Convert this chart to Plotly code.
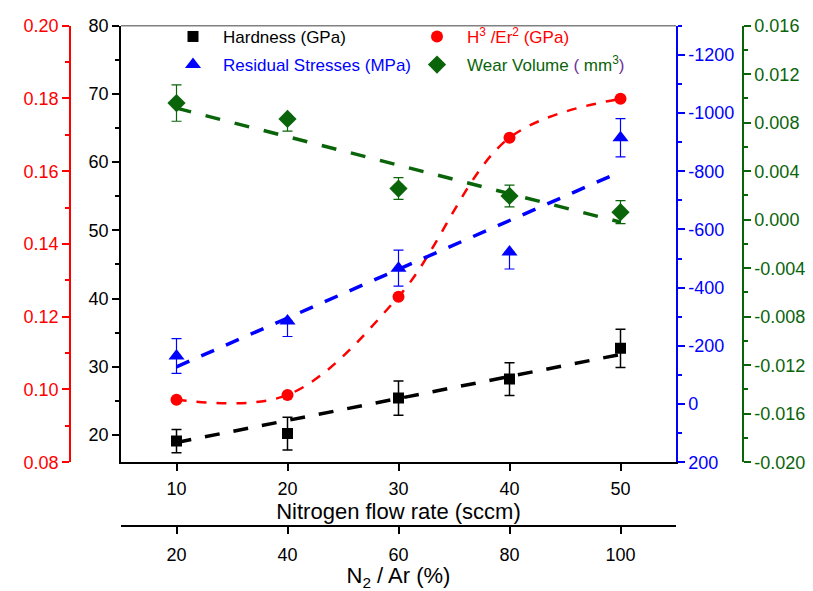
import numpy as np
import plotly.graph_objects as go

# ---- data -------------------------------------------------------------
flow = [10, 20, 30, 40, 50]                      # nitrogen flow rate (sccm)
n2_ar_ticks = [20, 40, 60, 80, 100]              # N2 / Ar (%)

hardness = [19.1, 20.2, 25.4, 28.2, 32.7]        # GPa
hardness_err = [1.7, 2.4, 2.5, 2.4, 2.8]

h3_er2 = [0.0972, 0.0985, 0.1255, 0.1692, 0.1799]  # GPa

stress = [-165, -285, -467, -522, -915]          # MPa
stress_err_plus = [60, 53, 62, 58, 66]
stress_err_minus = [60, 0, 62, 0, 66]

wear = [0.00962, 0.00831, 0.00257, 0.00196, 0.00062]   # mm^3
wear_err_plus = [0.0015, 0.0, 0.0009, 0.0009, 0.00095]
wear_err_minus = [0.0015, 0.0010, 0.0009, 0.0009, 0.00095]

# linear trend lines (end points)
fit_x = [10, 50]
hardness_fit = [18.9, 31.8]
stress_fit = [-128, -798]
wear_fit = [0.0092, -0.0002]

# tick labels
hard_ticks = [20, 30, 40, 50, 60, 70, 80]
red_ticks = [0.08, 0.10, 0.12, 0.14, 0.16, 0.18, 0.20]
red_labels = ["0.08", "0.10", "0.12", "0.14", "0.16", "0.18", "0.20"]
blue_ticks = [-1200, -1000, -800, -600, -400, -200, 0, 200]
blue_labels = ["-1200", "-1000", "-800", "-600", "-400", "-200", "0", "200"]
green_ticks = [0.016, 0.012, 0.008, 0.004, 0.0, -0.004, -0.008, -0.012, -0.016, -0.020]
green_labels = ["0.016", "0.012", "0.008", "0.004", "0.000", "-0.004", "-0.008",
                "-0.012", "-0.016", "-0.020"]

# ---- styling ----------------------------------------------------------
FONT = "Arial, 'Liberation Sans', sans-serif"
BLACK, RED, BLUE, GREEN, PURPLE = "#000000", "#FF0000", "#0000FF", "#0A640A", "#7030A0"
TICK_FONT = 18
TITLE_FONT = 22

W, H = 813, 591
ML, MR, MT, MB = 10, 10, 10, 6
PW, PH = W - ML - MR, H - MT - MB


def px_x(p):
    return (p - ML) / PW


def px_y(p):
    return 1 - (p - MT) / PH


x_dom = [px_x(121), px_x(676)]
y_dom = [px_y(469), px_y(20)]

fig = go.Figure()

# trend lines
fig.add_trace(go.Scatter(x=fit_x, y=hardness_fit, mode="lines", yaxis="y",
                         line=dict(color=BLACK, width=3.5, dash="15px,14px"),
                         showlegend=False, hoverinfo="skip"))
fig.add_trace(go.Scatter(x=fit_x, y=stress_fit, mode="lines", yaxis="y3",
                         line=dict(color=BLUE, width=3.5, dash="14px,13px"),
                         showlegend=False, hoverinfo="skip"))
fig.add_trace(go.Scatter(x=fit_x, y=wear_fit, mode="lines", yaxis="y4",
                         line=dict(color=GREEN, width=3.5, dash="15px,15px"),
                         showlegend=False, hoverinfo="skip"))
fig.add_trace(go.Scatter(x=flow, y=h3_er2, mode="lines", yaxis="y2",
                         line=dict(color=RED, width=2.5, dash="10px,10px",
                                   shape="spline", smoothing=1.0),
                         showlegend=False, hoverinfo="skip"))

# measured points
fig.add_trace(go.Scatter(
    x=flow, y=hardness, mode="markers", yaxis="y",
    name="Hardness (GPa)", legend="legend", legendgroup="a",
    marker=dict(symbol="square", size=11, color=BLACK),
    error_y=dict(type="data", array=hardness_err, color=BLACK, thickness=1.5, width=5)))
fig.add_trace(go.Scatter(
    x=flow, y=stress, mode="markers", yaxis="y3",
    name=f'<span style="color:{BLUE}">Residual Stresses (MPa)</span>',
    legend="legend", legendgroup="b",
    marker=dict(symbol="triangle-up", size=14, color=BLUE),
    error_y=dict(type="data", symmetric=False, array=stress_err_plus,
                 arrayminus=stress_err_minus, color=BLUE, thickness=1.2, width=5)))
fig.add_trace(go.Scatter(
    x=flow, y=h3_er2, mode="markers", yaxis="y2",
    name=f'<span style="color:{RED}">H<sup>3</sup> /Er<sup>2</sup> (GPa)</span>',
    legend="legend2", legendgroup="c",
    marker=dict(symbol="circle", size=12, color=RED)))
fig.add_trace(go.Scatter(
    x=flow, y=wear, mode="markers", yaxis="y4",
    name=(f'<span style="color:{GREEN}">Wear Volume </span>'
          f'<span style="color:{PURPLE}">( </span><span style="color:{GREEN}">mm<sup>3</sup></span>'
          f'<span style="color:{PURPLE}">)</span>'),
    legend="legend2", legendgroup="d",
    marker=dict(symbol="diamond", size=14, color=GREEN),
    error_y=dict(type="data", symmetric=False, array=wear_err_plus,
                 arrayminus=wear_err_minus, color=GREEN, thickness=1.2, width=5)))

# keeps the N2/Ar axis attached
fig.add_trace(go.Scatter(x=[n2_ar_ticks[0]], y=[hardness[0]], xaxis="x2", yaxis="y",
                         mode="markers", marker=dict(opacity=0), showlegend=False,
                         hoverinfo="skip"))

common_axis = dict(showgrid=False, zeroline=False, ticks="outside", showline=True,
                   linewidth=1.5, tickwidth=1.5)

legend_style = dict(xanchor="left", yanchor="top", bgcolor="rgba(0,0,0,0)",
                    font=dict(size=17, family=FONT, color=BLACK),
                    traceorder="grouped", tracegroupgap=3, itemwidth=50,
                    itemclick=False)

fig.update_layout(
    width=W, height=H,
    margin=dict(l=ML, r=MR, t=MT, b=MB),
    paper_bgcolor="white", plot_bgcolor="white",
    font=dict(family=FONT, size=TICK_FONT, color=BLACK),
    xaxis=dict(domain=x_dom, range=[5, 55], tickvals=flow, anchor="y",
               linecolor=BLACK, tickcolor=BLACK, ticklen=7, ticklabelstandoff=2,
               tickfont=dict(size=TICK_FONT, color=BLACK),
               title=dict(text="Nitrogen flow rate (sccm)",
                          font=dict(size=TITLE_FONT, color=BLACK), standoff=1),
               **common_axis),
    xaxis2=dict(overlaying="x", anchor="free", position=px_y(535), side="bottom",
                range=[10, 110], tickvals=n2_ar_ticks,
                linecolor=BLACK, tickcolor=BLACK, ticklen=7, ticklabelstandoff=5,
                tickfont=dict(size=TICK_FONT, color=BLACK),
                title=dict(text="N<sub>2</sub> / Ar (%)",
                           font=dict(size=TITLE_FONT, color=BLACK), standoff=2),
                **common_axis),
    yaxis=dict(domain=y_dom, range=[16, 80], tickvals=hard_ticks, anchor="x", side="left",
               linecolor=BLACK, tickcolor=BLACK, ticklen=7,
               tickfont=dict(size=TICK_FONT, color=BLACK),
               minor=dict(tickvals=list(np.arange(25, 80, 10)), ticks="outside",
                          ticklen=4, tickcolor=BLACK, tickwidth=1.5),
               **common_axis),
    yaxis2=dict(overlaying="y", anchor="free", position=px_x(70), side="left",
                range=[0.08, 0.20], tickvals=red_ticks, ticktext=red_labels,
                linecolor=RED, tickcolor=RED, ticklen=7,
                tickfont=dict(size=TICK_FONT, color=RED),
                minor=dict(tickvals=list(np.arange(0.09, 0.20, 0.02)), ticks="outside",
                           ticklen=4, tickcolor=RED, tickwidth=1.5),
                **common_axis),
    yaxis3=dict(overlaying="y", anchor="x", side="right",
                range=[200, -1300], tickvals=blue_ticks, ticktext=blue_labels,
                linecolor=BLUE, tickcolor=BLUE, ticklen=7,
                tickfont=dict(size=TICK_FONT, color=BLUE),
                minor=dict(tickvals=list(np.arange(-1300, 200, 200)), ticks="outside",
                           ticklen=4, tickcolor=BLUE, tickwidth=1.5),
                **common_axis),
    yaxis4=dict(overlaying="y", anchor="free", position=px_x(743), side="right",
                range=[-0.020, 0.016], tickvals=green_ticks, ticktext=green_labels,
                linecolor=GREEN, tickcolor=GREEN, ticklen=7,
                tickfont=dict(size=TICK_FONT, color=GREEN),
                minor=dict(tickvals=list(np.arange(-0.018, 0.016, 0.004)), ticks="outside",
                           ticklen=4, tickcolor=GREEN, tickwidth=1.5),
                **common_axis),
    legend=dict(x=px_x(163), y=px_y(13), **legend_style),
    legend2=dict(x=px_x(407), y=px_y(13), **legend_style),
    shapes=[dict(type="line", xref="paper", yref="paper",
                 x0=x_dom[0], x1=x_dom[1], y0=y_dom[1], y1=y_dom[1],
                 line=dict(color="#808080", width=1.5))],
    showlegend=True,
)

fig.write_html("out.html")
